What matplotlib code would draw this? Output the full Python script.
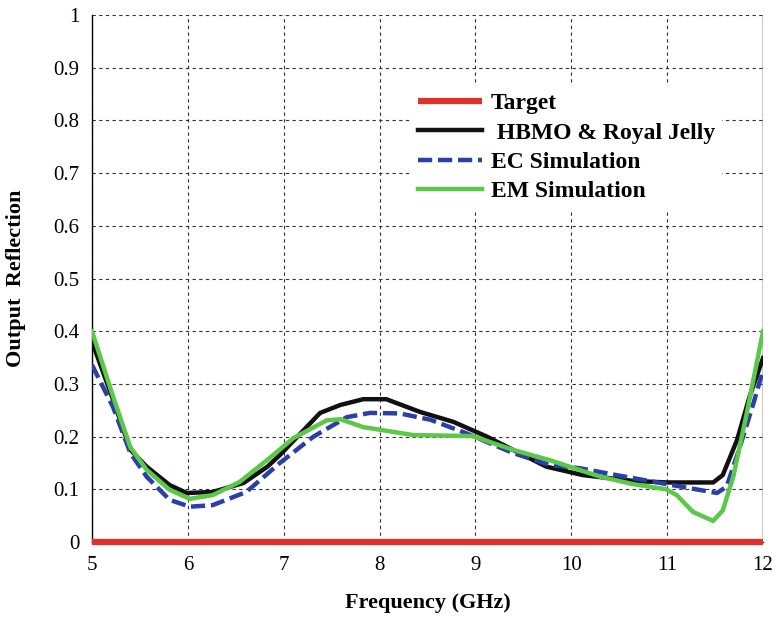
import matplotlib
matplotlib.use("Agg")
import matplotlib.pyplot as plt

plt.rcParams['font.family'] = ['Liberation Serif', 'DejaVu Serif']

# Target
target_f = [5.0, 12.0]
target_r = [0.0, 0.0]

# HBMO & Royal Jelly
hbmo_f = [5.0, 5.22, 5.40, 5.57, 5.81, 5.99, 6.26, 6.58, 6.83, 6.96, 7.38, 7.59, 7.83, 8.07,
          8.42, 8.77, 9.12, 9.39, 9.74, 10.12, 10.64, 11.0, 11.48, 11.58, 11.73, 11.86, 12.0]
hbmo_r = [0.38, 0.27, 0.175, 0.143, 0.108, 0.093, 0.095, 0.112, 0.143, 0.165, 0.245, 0.26, 0.271, 0.271,
          0.247, 0.228, 0.20, 0.175, 0.143, 0.127, 0.116, 0.113, 0.113, 0.127, 0.194, 0.276, 0.349]

# EC Simulation
ec_f = [5.0, 5.22, 5.40, 5.57, 5.81, 6.02, 6.26, 6.61, 6.96, 7.31, 7.66, 7.9, 8.21, 8.53,
        8.91, 9.39, 9.78, 10.09, 10.47, 10.99, 11.52, 11.62, 11.76, 11.9, 12.0]
ec_r = [0.336, 0.256, 0.169, 0.124, 0.08, 0.067, 0.07, 0.095, 0.15, 0.2, 0.237, 0.245, 0.244, 0.232,
        0.206, 0.169, 0.146, 0.14, 0.127, 0.11, 0.093, 0.105, 0.181, 0.263, 0.326]

# EM Simulation
em_f = [5.0, 5.22, 5.40, 5.57, 5.81, 6.02, 6.26, 6.54, 6.83, 7.10, 7.45, 7.59, 7.83, 8.35,
        8.97, 9.39, 9.78, 10.3, 10.64, 10.99, 11.1, 11.27, 11.48, 11.58, 11.69, 11.83, 12.0]
em_r = [0.40, 0.276, 0.18, 0.137, 0.099, 0.082, 0.089, 0.114, 0.156, 0.197, 0.231, 0.233, 0.218, 0.203,
        0.201, 0.175, 0.155, 0.124, 0.11, 0.10, 0.089, 0.057, 0.04, 0.06, 0.124, 0.244, 0.40]

fig = plt.figure(figsize=(7.77, 6.21), dpi=100)
ax = fig.add_axes([0.1184, 0.1272, 0.8636, 0.8486])

ax.plot(target_f, target_r, color='#e0302a', lw=4.5, label='Target', solid_capstyle='butt', zorder=5, clip_on=False)
ax.plot(hbmo_f, hbmo_r, color='#111111', lw=3.2, label=' HBMO & Royal Jelly', zorder=3)
ax.plot(ec_f, ec_r, color='#2b3fa8', lw=3.2, ls=(0, (3.2, 1.3)), label='EC Simulation', zorder=3)
ax.plot(em_f, em_r, color='#5cc84a', lw=3.2, label='EM Simulation', zorder=4)

ax.set_xlim(5, 12)
ax.set_ylim(0, 1)
ax.set_xticks(range(5, 13))
ax.set_yticks([i / 10 for i in range(11)])
ax.set_yticklabels(['0'] + [f'0.{i}' for i in range(1, 10)] + ['1'])
ax.tick_params(axis='y', labelsize=15, direction='in', length=0, pad=9)
ax.tick_params(axis='x', labelsize=15, direction='in', length=0, pad=10)
ax.grid(True, color='#333333', ls=(0, (3, 3)), lw=0.8)
for s in ['top', 'right']:
    ax.spines[s].set_visible(False)
for s in ['left', 'bottom']:
    ax.spines[s].set_linewidth(1.0)
ax.axvline(12, color='black', lw=1.0, zorder=2)

ax.set_xlabel('Frequency (GHz)', fontsize=16, fontweight='bold')
ax.set_ylabel('Output  Reflection', fontsize=16, fontweight='bold')
ax.xaxis.set_label_coords(0.5, -0.097)
ax.yaxis.set_label_coords(-0.098, 0.5)

leg = ax.legend(loc='upper left', bbox_to_anchor=(0.475, 0.866), frameon=True, fancybox=False,
                edgecolor='none', facecolor='white', framealpha=1.0, borderaxespad=0,
                prop={'weight': 'bold', 'size': 17}, handlelength=2.7, handletextpad=0.4,
                labelspacing=0.33, borderpad=0.3)

fig.savefig('out.png', dpi=100)
